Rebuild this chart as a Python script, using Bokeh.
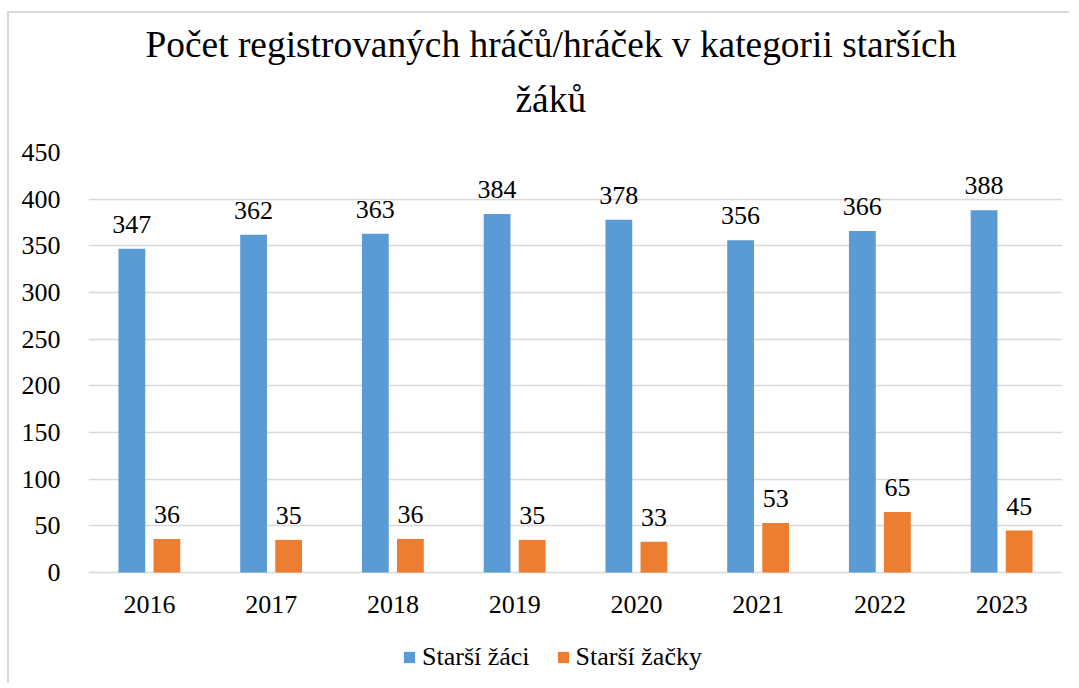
from bokeh.plotting import figure
from bokeh.models import ColumnDataSource, FactorRange, LabelSet, Title, Legend, LegendItem
from bokeh.transform import dodge
from bokeh.embed import file_html
from bokeh.resources import INLINE

years = ["2016", "2017", "2018", "2019", "2020", "2021", "2022", "2023"]
zaci = [347, 362, 363, 384, 378, 356, 366, 388]
zacky = [36, 35, 36, 35, 33, 53, 65, 45]
y_ticks = [0, 50, 100, 150, 200, 250, 300, 350, 400, 450]

title_line1 = "Počet registrovaných hráčů/hráček v kategorii starších"
title_line2 = "žáků"
series_names = ["Starší žáci", "Starší žačky"]

BLUE = "#5B9BD5"
ORANGE = "#ED7D31"
FONT = "Liberation Serif"

src = ColumnDataSource(dict(
    years=years, zaci=zaci, zacky=zacky, zero=[0] * len(years),
    zaci_t=[str(v) for v in zaci], zacky_t=[str(v) for v in zacky],
))

W, H = 1062, 672
p = figure(x_range=FactorRange(*years), y_range=(-121, 450), width=W, height=H,
           output_backend="svg", toolbar_location=None,
           min_border_left=79, min_border_right=9, min_border_top=139, min_border_bottom=0)
p.styles = {"border-top": "2px solid #d9d9d9", "border-left": "2px solid #d9d9d9",
            "margin-top": "11px", "margin-left": "7px"}
p.x_range.range_padding = 0

r1 = p.vbar(x=dodge("years", -0.144, range=p.x_range), top="zaci", width=0.22,
            source=src, fill_color=BLUE, line_color=None)
r2 = p.vbar(x=dodge("years", 0.144, range=p.x_range), top="zacky", width=0.22,
            source=src, fill_color=ORANGE, line_color=None)

for col, txt, off in [("zaci", "zaci_t", -0.144), ("zacky", "zacky_t", 0.144)]:
    ls = LabelSet(x=dodge("years", off, range=p.x_range), y=col, text=txt, source=src,
                  text_align="center", text_baseline="alphabetic", y_offset=16,
                  text_font=FONT, text_font_size="26px", text_color="black")
    p.add_layout(ls)

# category labels under the zero line
p.add_layout(LabelSet(x="years", y="zero", text="years", source=src,
                      text_align="center", text_baseline="alphabetic", y_offset=-40,
                      text_font=FONT, text_font_size="26px", text_color="black"))

p.outline_line_color = None
p.background_fill_color = "white"
p.border_fill_color = "white"

p.xaxis.visible = False
p.xgrid.grid_line_color = None
p.ygrid.grid_line_color = "#d9d9d9"
p.ygrid.grid_line_width = 1.5
p.yaxis.ticker = y_ticks
p.yaxis.axis_line_color = None
p.yaxis.major_tick_line_color = None
p.yaxis.minor_tick_line_color = None
p.yaxis.major_label_text_font = FONT
p.yaxis.major_label_text_font_size = "26px"
p.yaxis.major_label_text_color = "black"
p.yaxis.major_label_standoff = 22

t2 = Title(text=title_line2, align="left", offset=427, standoff=65,
           text_font=FONT, text_font_size="37.4px", text_font_style="normal", text_color="black")
t1 = Title(text=title_line1, align="left", offset=57, standoff=-40,
           text_font=FONT, text_font_size="37.4px", text_font_style="normal", text_color="black")
p.add_layout(t2, "above")
p.add_layout(t1, "above")

legend = Legend(items=[LegendItem(label=series_names[0], renderers=[r1]),
                       LegendItem(label=series_names[1], renderers=[r2])],
                orientation="horizontal", location=(314, 13),
                padding=0, margin=0, spacing=26, glyph_width=14, glyph_height=14,
                label_standoff=6, label_text_font=FONT, label_text_font_size="26px",
                label_text_color="black", border_line_color=None, background_fill_alpha=0)
p.add_layout(legend)

open("out.html", "w").write(file_html(p, INLINE))
